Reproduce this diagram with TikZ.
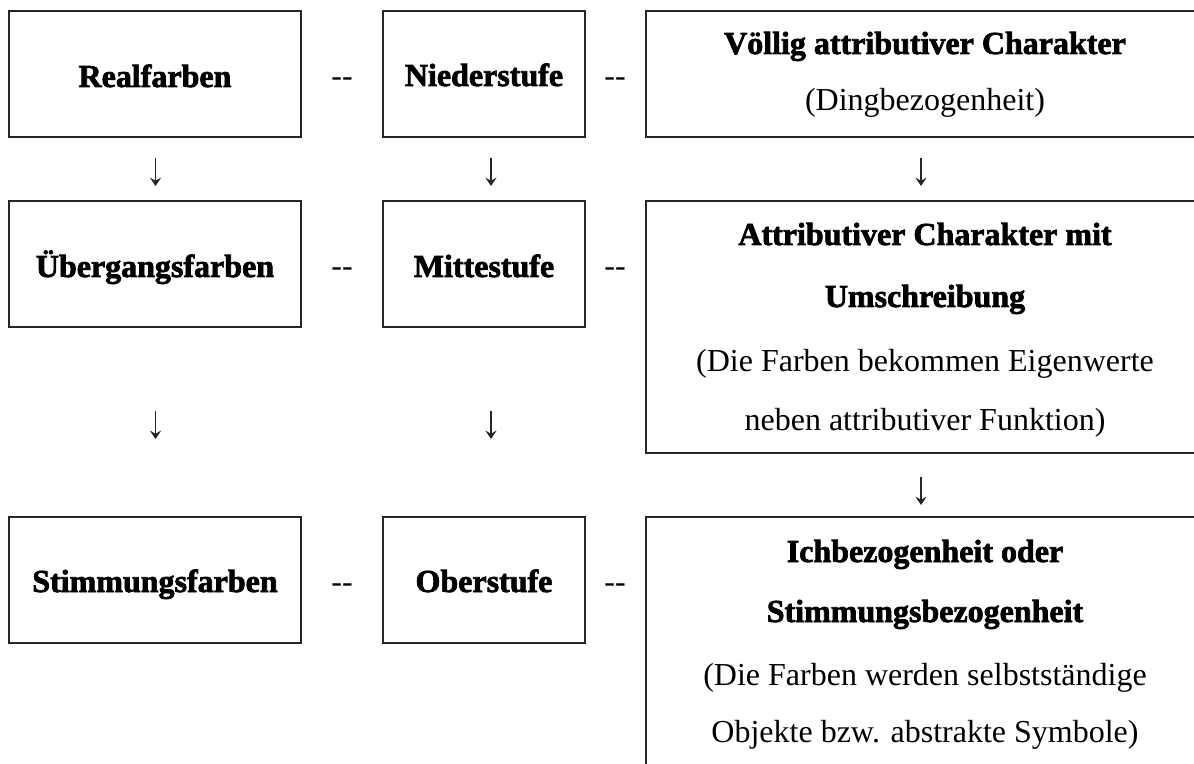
\documentclass[tikz,border=0pt]{standalone}
\usepackage{fontspec}
\usetikzlibrary{arrows.meta}
\setmainfont{Liberation Serif}[BoldFeatures={FakeBold=2.2}]
\begin{document}
\begin{tikzpicture}[x=0.5pt,y=-0.5pt,
  box/.style={draw=black!85, line width=0.6pt, inner sep=0pt},
  lbl/.style={font=\fontsize{16}{19}\selectfont\bfseries, anchor=base, inner sep=0pt},
  sub/.style={font=\fontsize{16}{19}\selectfont, anchor=base, inner sep=0pt},
  sepr/.style={font=\fontsize{16}{19}\selectfont, anchor=base, inner sep=0pt},
  downarrow/.style={draw=black!85, line width=0.6pt, -{Stealth[length=4.2pt, width=5.6pt, inset=1.6pt]}}]
\useasboundingbox (0,0) rectangle (1194,764);
\clip (0,0) rectangle (1194,764);
% boxes
\node[box, minimum width=146pt, minimum height=63pt] (b11) at (155,74) {};
\node[box, minimum width=101pt, minimum height=63pt] (b12) at (484,74) {};
\node[box, minimum width=279pt, minimum height=63pt] (b13) at (925,74) {};
\node[box, minimum width=146pt, minimum height=63pt] (b21) at (155,264) {};
\node[box, minimum width=101pt, minimum height=63pt] (b22) at (484,264) {};
\node[box, minimum width=279pt, minimum height=126pt] (b23) at (925,327) {};
\node[box, minimum width=146pt, minimum height=63pt] (b31) at (155,580) {};
\node[box, minimum width=101pt, minimum height=63pt] (b32) at (484,580) {};
\node[box, minimum width=279pt, minimum height=141.5pt] (b33) at (925,658.5) {};
% row 1 texts
\node[lbl] (t11) at (155,87) {Realfarben};
\node[sepr] (s11) at (342,87) {-\kern0pt-};
\node[lbl] (t12) at (484,86) {Niederstufe};
\node[sepr] (s12) at (615,87) {-\kern0pt-};
\node[lbl] (t13a) at (925,54) {Völlig attributiver Charakter};
\node[sub] (t13b) at (925,111) {(Dingbezogenheit)};
% row 2 texts
\node[lbl] (t21) at (155,277) {Übergangsfarben};
\node[sepr] (s21) at (342,277) {-\kern0pt-};
\node[lbl] (t22) at (484,277) {Mittestufe};
\node[sepr] (s22) at (615,277) {-\kern0pt-};
\node[lbl] (t23a) at (925,245) {Attributiver Charakter mit};
\node[lbl] (t23b) at (925,307) {Umschreibung};
\node[sub] (t23c) at (925,372) {(Die Farben bekommen Eigenwerte};
\node[sub] (t23d) at (925,430) {neben attributiver Funktion)};
% row 3 texts
\node[lbl] (t31) at (155,592) {Stimmungsfarben};
\node[sepr] (s31) at (342,592) {-\kern0pt-};
\node[lbl] (t32) at (484,592) {Oberstufe};
\node[sepr] (s32) at (615,592) {-\kern0pt-};
\node[lbl] (t33a) at (925,562) {Ichbezogenheit oder};
\node[lbl] (t33b) at (925,622) {Stimmungsbezogenheit};
\node[sub] (t33c) at (925,685) {(Die Farben werden selbstständige};
\node[sub] (t33d) at (925,742) {Objekte bzw. abstrakte Symbole)};
% arrow end points
\coordinate (a11s) at (155.5,158); \coordinate (a11e) at (155.5,186);
\coordinate (a12s) at (491,158);   \coordinate (a12e) at (491,186);
\coordinate (a13s) at (921,158);   \coordinate (a13e) at (921,186);
\coordinate (a21s) at (155.5,411); \coordinate (a21e) at (155.5,439);
\coordinate (a22s) at (491,411);   \coordinate (a22e) at (491,439);
\coordinate (a23s) at (921,477);   \coordinate (a23e) at (921,505);
\draw[downarrow] (a11s) -- (a11e);
\draw[downarrow] (a12s) -- (a12e);
\draw[downarrow] (a13s) -- (a13e);
\draw[downarrow] (a21s) -- (a21e);
\draw[downarrow] (a22s) -- (a22e);
\draw[downarrow] (a23s) -- (a23e);
\end{tikzpicture}
\end{document}
